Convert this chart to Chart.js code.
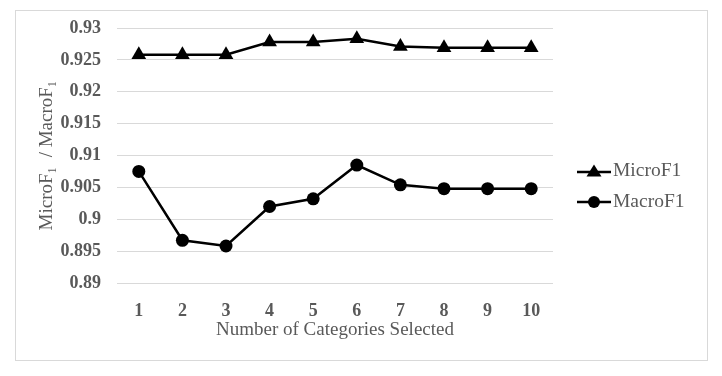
<!DOCTYPE html>
<html>
<head>
<meta charset="utf-8">
<script src="https://cdn.jsdelivr.net/npm/chart.js@4/dist/chart.umd.min.js"></script>
<style>
  html, body { margin: 0; padding: 0; background: #fff; }
  #wrap { position: relative; width: 722px; height: 376px; }
  #frame { position: absolute; left: 15px; top: 10px; width: 691px; height: 349px; border: 1px solid #d9d9d9; }
  canvas { position: absolute; left: 0; top: 0; }
  .legend { position: absolute; left: 577px; font-family: "Liberation Serif", serif; font-size: 19.5px; color: #595959; display: flex; align-items: center; }
  .legend svg { margin-right: 2px; }
</style>
</head>
<body>
<div id="wrap">
  <div id="frame"></div>
  <canvas id="chart" width="722" height="376"></canvas>
  <div class="legend" style="top:159px">
    <svg width="34" height="16"><line x1="0" y1="10" x2="34" y2="10" stroke="#000" stroke-width="2.5"/><polygon points="17,2.5 24.5,14.5 9.5,14.5" fill="#000"/></svg>MicroF1
  </div>
  <div class="legend" style="top:190px">
    <svg width="34" height="16"><line x1="0" y1="9" x2="34" y2="9" stroke="#000" stroke-width="2.5"/><circle cx="17" cy="9" r="6" fill="#000"/></svg>MacroF1
  </div>
</div>
<script>
// data
const categories = ['1', '2', '3', '4', '5', '6', '7', '8', '9', '10'];
const microF1 = [0.9258, 0.9258, 0.9258, 0.9278, 0.9278, 0.9283, 0.9271, 0.9269, 0.9269, 0.9269];
const macroF1 = [0.9075, 0.8967, 0.8958, 0.9020, 0.9032, 0.9085, 0.9054, 0.9048, 0.9048, 0.9048];
const yMin = 0.89, yMax = 0.93, yStep = 0.005;

const grey = '#595959';

new Chart(document.getElementById('chart').getContext('2d'), {
  type: 'line',
  data: {
    labels: categories,
    datasets: [
      { label: 'MicroF1', data: microF1, borderColor: '#000', backgroundColor: '#000', borderWidth: 2.5,
        pointStyle: 'triangle', pointRadius: 8.5, pointBorderWidth: 0, tension: 0 },
      { label: 'MacroF1', data: macroF1, borderColor: '#000', backgroundColor: '#000', borderWidth: 2.5,
        pointStyle: 'circle', pointRadius: 6.5, pointBorderWidth: 0, tension: 0 },
    ],
  },
  options: {
    responsive: false,
    animation: false,
    layout: { padding: { left: 36, top: 28, right: 169, bottom: 35 } },
    plugins: { legend: { display: false }, tooltip: { enabled: false } },
    scales: {
      x: {
        offset: true,
        grid: { display: false },
        border: { display: false },
        ticks: { color: grey, padding: 10, font: { family: 'Liberation Serif', size: 18, weight: 'bold' } },
        title: { display: true, text: 'Number of Categories Selected', color: grey, padding: 0,
                 font: { family: 'Liberation Serif', size: 19 } },
        afterFit: s => { s.height = 58; },
      },
      y: {
        min: yMin, max: yMax,
        grid: { color: '#d9d9d9', lineWidth: 1, drawTicks: false },
        border: { display: false },
        ticks: { stepSize: yStep, color: grey, padding: 16,
                 font: { family: 'Liberation Serif', size: 18, weight: 'bold' },
                 callback: v => String(parseFloat(v.toFixed(3))) },
        title: { display: true, text: 'MicroF\u2081  / MacroF\u2081', color: grey, padding: 0,
                 font: { family: 'Liberation Serif', size: 19 } },
        afterFit: s => { s.width = 81; },
      },
    },
  },
});
</script>
</body>
</html>
